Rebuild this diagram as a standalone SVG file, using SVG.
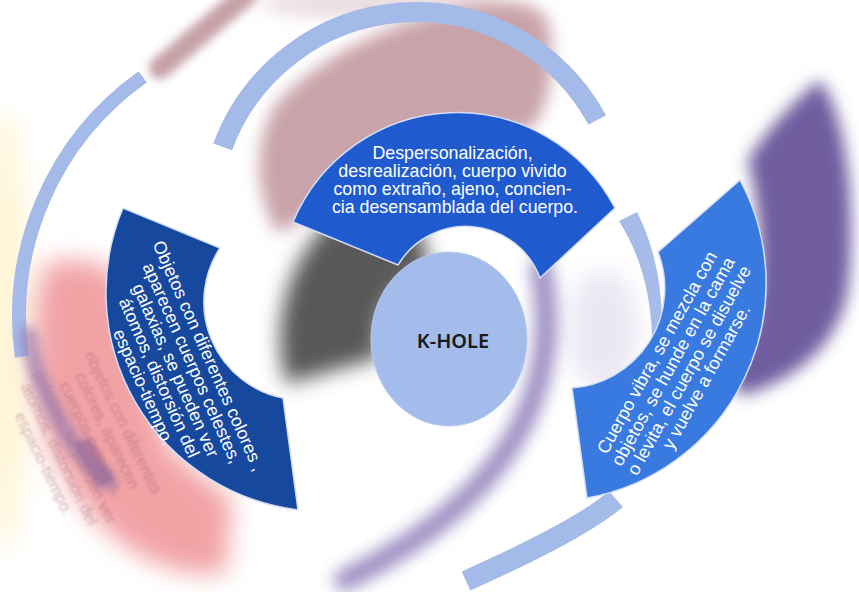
<svg xmlns="http://www.w3.org/2000/svg" width="859" height="592" viewBox="0 0 859 592">
  <defs>
    <filter id="b2" x="-50%" y="-50%" width="200%" height="200%"><feGaussianBlur stdDeviation="2"/></filter>
    <filter id="b5" x="-50%" y="-50%" width="200%" height="200%"><feGaussianBlur stdDeviation="5"/></filter>
    <filter id="b8" x="-50%" y="-50%" width="200%" height="200%"><feGaussianBlur stdDeviation="8"/></filter>
    <filter id="b10" x="-50%" y="-50%" width="200%" height="200%"><feGaussianBlur stdDeviation="10"/></filter>
    <filter id="b12" x="-50%" y="-50%" width="200%" height="200%"><feGaussianBlur stdDeviation="12"/></filter>
    <filter id="soft" x="-20%" y="-20%" width="140%" height="140%"><feGaussianBlur stdDeviation="0.8"/></filter>
    <style>
      .ring { fill: none; stroke: #a4bae8; }
      .seg { stroke: #d4def6; stroke-width: 1.5; }
      .lbl { font-family: "Liberation Sans", Arial, sans-serif; font-size: 18px; fill: #ffffff; text-anchor: middle; }
      .ghost { font-family: "Liberation Sans", Arial, sans-serif; font-size: 16px; fill: #8e5864; opacity: 0.4; text-anchor: middle; }
    </style>
  </defs>

  <rect width="859" height="592" fill="#ffffff"/>

  <!-- soft blurred backdrop -->
  <g id="backdrop">
    <ellipse cx="4" cy="330" rx="26" ry="220" fill="#fff3cf" opacity="0.8" filter="url(#b12)"/>
    <ellipse cx="380" cy="4" rx="120" ry="16" fill="#dcc3c8" opacity="0.55" filter="url(#b8)"/>
    <path d="M 278 234 C 252 190 255 140 275 105 C 310 65 370 30 450 10 C 490 0 530 -5 548 20 C 556 60 552 105 530 130 L 420 150 Z" fill="#c9a3aa" filter="url(#b8)"/>
    <path d="M 160 68 L 247 -6" stroke="#c6a0a8" stroke-width="22" stroke-linecap="round" fill="none" filter="url(#b5)"/>
    <path d="M 45 264 C 80 255 110 262 122 282 L 170 450 L 232 500 L 226 572 C 170 582 100 545 62 472 C 30 420 25 330 45 264 Z" fill="#f0999b" opacity="0.9" filter="url(#b12)"/>
    <path d="M 286 384 A 168 168 0 0 1 406.3 176.6 L 430.9 271.4 A 70 70 0 0 0 381.4 357.1 Z" fill="#585858" filter="url(#b10)"/>
    <ellipse cx="603" cy="330" rx="35" ry="60" fill="#e2dcef" opacity="0.7" filter="url(#b12)"/>
    <path d="M 541 268 C 562 380 522 492 345 580" stroke="#8473b4" stroke-width="22" stroke-linecap="round" fill="none" opacity="0.8" filter="url(#b8)"/>
    <path d="M 820 80 C 850 120 856 220 848 290 C 840 340 800 380 740 396 L 728 370 C 760 330 770 250 748 160 C 770 125 800 95 820 80 Z" fill="#6f5d9f" filter="url(#b8)"/>
  </g>

  <!-- decorative rings -->
  <g id="rings">
    <path class="ring" d="M 142.7 76.9 A 293 293 0 0 0 21.9 356.8" stroke-width="14"/>
    <path class="ring" d="M 222.7 146.9 A 206 206 0 0 1 597.2 120" stroke-width="20"/>
    <path d="M 619 221 L 637 212 Q 666 270 661 342 L 652 336 Q 650 270 619 221 Z" fill="#a6bbe8"/>
    <path class="ring" d="M 616 499 Q 580 530 466 581" stroke-width="21"/>
  </g>

  <!-- faint mirrored caption -->
  <g id="ghost-caption" filter="url(#soft)">
    <text class="ghost" transform="translate(84.4 444.3) rotate(64)">
      <tspan x="0" y="-39.2">objetos con diferentes</tspan>
      <tspan x="0" y="-21.3">colores, aparecen</tspan>
      <tspan x="0" y="-3.4">cuerpos celestes,</tspan>
      <tspan x="0" y="14.5">galaxias, se pueden ver</tspan>
      <tspan x="0" y="32.4">átomos, distorsión del</tspan>
      <tspan x="0" y="50.3">espacio-tiempo.</tspan>
    </text>
  </g>
  <path d="M 28 335 Q 45 425 108 482" stroke="#9a7bb0" stroke-width="18" stroke-linecap="round" fill="none" opacity="0.65" filter="url(#b5)"/>
  <path d="M 82 440 L 106 484" stroke="#8a5c8e" stroke-width="18" fill="none" opacity="0.45" filter="url(#b2)"/>

  <!-- nodes -->
  <g id="seg-top">
    <path class="seg" fill="#1f5bcf" d="M 293 222 A 178 178 0 0 1 615 208 L 540 278 A 79 79 0 0 0 398 265 Z"/>
    <text class="lbl" style="font-size:17.8px">
      <tspan x="455" y="158.5">Despersonalización,</tspan>
      <tspan x="455" y="176.5">desrealización, cuerpo vivido</tspan>
      <tspan x="455" y="194.5">como extraño, ajeno, concien-</tspan>
      <tspan x="455" y="212.5">cia desensamblada del cuerpo.</tspan>
    </text>
  </g>

  <g id="seg-left">
    <path class="seg" fill="#16489e" d="M 123 208 A 219 219 0 0 0 298 510 L 283 398 A 98 98 0 0 1 220 248 Z"/>
    <text class="lbl" style="font-size:17.8px" transform="translate(171.1 375.1) rotate(66)">
      <tspan x="0" y="-36">Objetos con diferentes colores ,</tspan>
      <tspan x="0" y="-18">aparecen cuerpos celestes,</tspan>
      <tspan x="0" y="0">galaxias, se pueden ver</tspan>
      <tspan x="0" y="18">átomos, distorsión del</tspan>
      <tspan x="0" y="36">espacio-tiempo.</tspan>
    </text>
  </g>

  <g id="seg-right">
    <path class="seg" fill="#397ae0" d="M 740 180 A 218 218 0 0 1 587 498 L 572 388 A 100 100 0 0 0 658 252 Z"/>
    <text class="lbl" transform="translate(682 363.5) rotate(-61)">
      <tspan x="0" y="-21.15">Cuerpo vibra, se mezcla con</tspan>
      <tspan x="0" y="-2.85">objetos, se hunde en la cama</tspan>
      <tspan x="0" y="15.45">o levita, el cuerpo se disuelve</tspan>
      <tspan x="0" y="33.75">y vuelve a formarse.</tspan>
    </text>
  </g>

  <g id="k-hole">
    <ellipse cx="449" cy="339" rx="78" ry="87" fill="#a3bceb" stroke="#b9cbef" stroke-width="1"/>
    <text x="453" y="348" font-family="'Noto Sans', 'Open Sans', sans-serif" font-size="20" font-weight="600" fill="#1a1a1a" text-anchor="middle">K-HOLE</text>
  </g>
</svg>
